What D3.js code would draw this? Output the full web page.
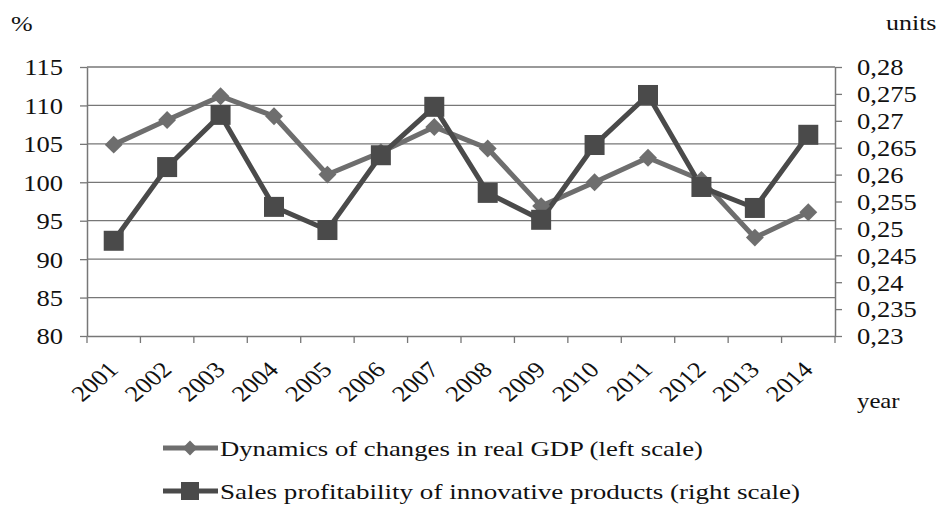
<!DOCTYPE html>
<html>
<head>
<meta charset="utf-8">
<script src="https://cdn.jsdelivr.net/npm/d3@7"></script>
<style>
  body { margin: 0; background: #fff; }
  svg text { font-family: "Liberation Serif", "Times New Roman", serif; fill: #111; }
</style>
</head>
<body>
<svg width="942" height="508"></svg>
<script>
// data
var years = ['2001','2002','2003','2004','2005','2006','2007','2008','2009','2010','2011','2012','2013','2014'];
var gdp = [104.9, 108.1, 111.2, 108.6, 101.0, 103.9, 107.2, 104.4, 96.9, 100.0, 103.2, 100.3, 92.8, 96.1];
var profit = [0.2477, 0.2614, 0.2711, 0.2540, 0.2497, 0.2636, 0.2726, 0.2566, 0.2516, 0.2655, 0.2748, 0.2577, 0.2538, 0.2674];
var leftTicks = [80, 85, 90, 95, 100, 105, 110, 115];
var rightTicks = [0.23, 0.235, 0.24, 0.245, 0.25, 0.255, 0.26, 0.265, 0.27, 0.275, 0.28];
var legendLabels = ['Dynamics of changes in real GDP (left scale)', 'Sales profitability of innovative products (right scale)'];

var svg = d3.select('svg');
var plotLeft = 87, plotRight = 835, plotTop = 67, plotBottom = 336;
var stretch = 1.18; // the source text is a little wide

var xScale = d3.scaleBand().domain(years).range([plotLeft, plotRight]);
var yLeft = d3.scaleLinear().domain([80, 115]).range([plotBottom, plotTop]);
var yRight = d3.scaleLinear().domain([0.23, 0.28]).range([plotBottom, plotTop]);

var axisColor = '#777';

// gridlines
svg.append('g')
    .selectAll('line')
    .data(leftTicks.slice(1))
    .enter()
    .append('line')
    .attr('x1', plotLeft).attr('x2', plotRight)
    .attr('y1', d => yLeft(d)).attr('y2', d => yLeft(d))
    .attr('stroke', axisColor).attr('stroke-width', 1.3);

// left axis
var yAxisL = d3.axisLeft(yLeft).tickValues(leftTicks).tickSize(7).tickSizeOuter(0);
var gL = svg.append('g')
    .attr('transform', 'translate(' + plotLeft + ',0)')
    .call(yAxisL);
gL.selectAll('text')
    .style('font-size', '22.5px')
    .attr('x', 0)
    .attr('dy', '0.35em')
    .attr('transform', 'translate(-24,0) scale(' + stretch + ',1)');

// right axis
var yAxisR = d3.axisRight(yRight).tickValues(rightTicks).tickSize(7).tickSizeOuter(0)
    .tickFormat(d => String(+d.toFixed(3)).replace('.', ','));
var gR = svg.append('g')
    .attr('transform', 'translate(' + plotRight + ',0)')
    .call(yAxisR);
gR.selectAll('text')
    .style('font-size', '22.5px')
    .attr('x', 0)
    .attr('dy', '0.35em')
    .attr('transform', 'translate(22,0) scale(' + stretch + ',1)');

// x axis
var xAxis = d3.axisBottom(xScale).tickSize(0).tickFormat('');
svg.append('g')
    .attr('transform', 'translate(0,' + plotBottom + ')')
    .call(xAxis);
// ticks sit on the category boundaries
svg.append('g')
    .selectAll('line')
    .data(d3.range(years.length + 1))
    .enter()
    .append('line')
    .attr('x1', i => plotLeft + i * xScale.step())
    .attr('x2', i => plotLeft + i * xScale.step())
    .attr('y1', plotBottom).attr('y2', plotBottom + 7)
    .attr('stroke', axisColor).attr('stroke-width', 1.3);

svg.selectAll('.domain').attr('stroke', axisColor).attr('stroke-width', 1.5);
svg.selectAll('.tick line').attr('stroke', axisColor).attr('stroke-width', 1.3);

var cx = d => xScale(d) + xScale.bandwidth() / 2;

svg.append('g')
    .selectAll('text')
    .data(years)
    .enter()
    .append('text')
    .attr('transform', d => 'translate(' + (cx(d) + 6) + ',' + (plotBottom + 35) + ') scale(' + stretch + ',1) rotate(-45)')
    .attr('text-anchor', 'end')
    .style('font-size', '22.5px')
    .text(d => d);

// axis titles
svg.append('text').attr('transform', 'translate(11,31) scale(' + stretch + ',1)').style('font-size', '22px').text('%');
svg.append('text').attr('transform', 'translate(886,30) scale(' + stretch + ',1)').style('font-size', '22px').text('units');
svg.append('text').attr('transform', 'translate(857,408) scale(' + stretch + ',1)').style('font-size', '21px').text('year');

var gdpColor = '#6e6e6e', profitColor = '#4a4a4a';

// GDP line (diamonds)
var lineL = d3.line().x((d, i) => cx(years[i])).y(d => yLeft(d));
svg.append('path')
    .datum(gdp)
    .attr('d', lineL)
    .attr('fill', 'none')
    .attr('stroke', gdpColor)
    .attr('stroke-width', 5);

// profitability line (squares)
var lineR = d3.line().x((d, i) => cx(years[i])).y(d => yRight(d));
svg.append('path')
    .datum(profit)
    .attr('d', lineR)
    .attr('fill', 'none')
    .attr('stroke', profitColor)
    .attr('stroke-width', 5);

svg.append('g')
    .selectAll('path')
    .data(gdp)
    .enter()
    .append('path')
    .attr('d', d3.symbol().type(d3.symbolSquare).size(160))
    .attr('transform', (d, i) => 'translate(' + cx(years[i]) + ',' + yLeft(d) + ') rotate(45)')
    .attr('fill', gdpColor);

svg.append('g')
    .selectAll('rect')
    .data(profit)
    .enter()
    .append('rect')
    .attr('x', (d, i) => cx(years[i]) - 10)
    .attr('y', d => yRight(d) - 10)
    .attr('width', 20).attr('height', 20)
    .attr('fill', profitColor);

// legend
var legend = svg.append('g');
var legendY = [448, 491];
var legendWidth = [483, 580];
legendLabels.forEach(function(label, i) {
    var y = legendY[i];
    var color = i === 0 ? gdpColor : profitColor;
    legend.append('line')
        .attr('x1', 163).attr('x2', 218)
        .attr('y1', y).attr('y2', y)
        .attr('stroke', color).attr('stroke-width', 5);
    if (i === 0) {
        legend.append('path')
            .attr('d', d3.symbol().type(d3.symbolSquare).size(110))
            .attr('transform', 'translate(190,' + y + ') rotate(45)')
            .attr('fill', color);
    } else {
        legend.append('rect')
            .attr('x', 181).attr('y', y - 9)
            .attr('width', 18).attr('height', 18)
            .attr('fill', color);
    }
    legend.append('text')
        .attr('x', 220).attr('y', y)
        .attr('dy', '0.35em')
        .attr('textLength', legendWidth[i])
        .attr('lengthAdjust', 'spacingAndGlyphs')
        .style('font-size', '22px')
        .text(label);
});
</script>
</body>
</html>
